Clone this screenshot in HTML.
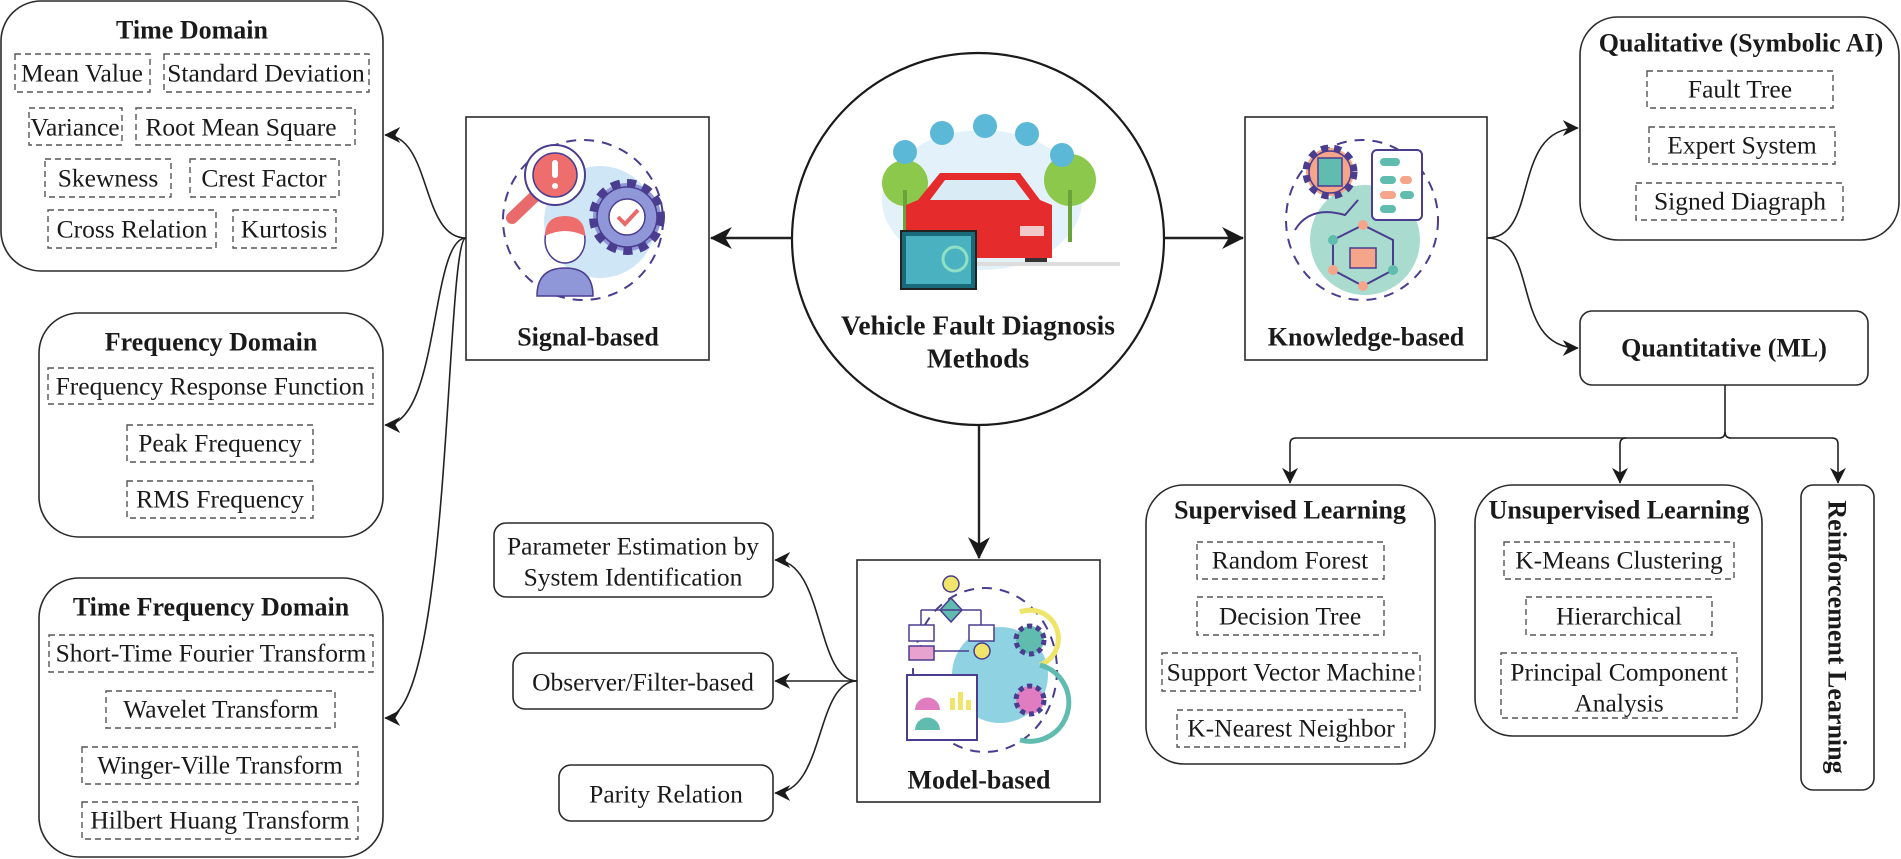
<!DOCTYPE html>
<html><head><meta charset="utf-8"><style>
html,body{margin:0;padding:0;background:#fff;}
svg{display:block;}
text{font-family:"Liberation Serif","DejaVu Serif",serif;fill:#1a1a1a;}
.t{font-size:25.5px;}
.b{font-size:26px;font-weight:bold;}
.bx{fill:#fff;stroke:#2a2a2a;stroke-width:1.6;}
.d{fill:none;stroke:#555;stroke-width:1.4;stroke-dasharray:6 4;}
.ln{fill:none;stroke:#222;stroke-width:1.6;}
.ln2{fill:none;stroke:#222;stroke-width:2.4;}
</style></head><body>
<svg width="1901" height="859" viewBox="0 0 1901 859" xmlns="http://www.w3.org/2000/svg" font-family="Liberation Serif, DejaVu Serif, serif">
<defs>
<marker id="a" viewBox="0 0 10 10" refX="9.5" refY="5" markerWidth="16" markerHeight="16" markerUnits="userSpaceOnUse" orient="auto">
<path d="M0,0 L10,5 L0,10 L3,5 z" fill="#1a1a1a"/></marker>
<marker id="A" viewBox="0 0 10 10" refX="9.5" refY="5" markerWidth="22" markerHeight="22" markerUnits="userSpaceOnUse" orient="auto">
<path d="M0,0 L10,5 L0,10 L3,5 z" fill="#1a1a1a"/></marker>
</defs>
<g text-anchor="middle" dominant-baseline="central">

<rect class="bx" x="1" y="1" width="382" height="270" rx="40"/>
<text class="b" x="192" y="30">Time Domain</text>
<rect class="d" x="15" y="54" width="135" height="38"/><text class="t" x="82" y="73">Mean Value</text>
<rect class="d" x="164" y="54" width="205" height="38"/><text class="t" x="266" y="73">Standard Deviation</text>
<rect class="d" x="29" y="108" width="93" height="37"/><text class="t" x="75" y="127">Variance</text>
<rect class="d" x="136" y="108" width="219" height="37"/><text class="t" x="241" y="127">Root Mean Square</text>
<rect class="d" x="45" y="159" width="126" height="38"/><text class="t" x="108" y="178">Skewness</text>
<rect class="d" x="190" y="159" width="149" height="38"/><text class="t" x="264" y="178">Crest Factor</text>
<rect class="d" x="48" y="210" width="168" height="38"/><text class="t" x="132" y="229">Cross Relation</text>
<rect class="d" x="233" y="210" width="103" height="38"/><text class="t" x="284" y="229">Kurtosis</text>

<rect class="bx" x="39" y="313" width="344" height="224" rx="40"/>
<text class="b" x="211" y="342">Frequency Domain</text>
<rect class="d" x="48" y="368" width="325" height="36"/><text class="t" x="210" y="386">Frequency Response Function</text>
<rect class="d" x="127" y="425" width="186" height="37"/><text class="t" x="220" y="443">Peak Frequency</text>
<rect class="d" x="127" y="481" width="186" height="37"/><text class="t" x="220" y="499">RMS Frequency</text>

<rect class="bx" x="39" y="578" width="344" height="279" rx="40"/>
<text class="b" x="211" y="607">Time Frequency Domain</text>
<rect class="d" x="49" y="635" width="324" height="37"/><text class="t" x="211" y="653">Short-Time Fourier Transform</text>
<rect class="d" x="106" y="691" width="229" height="37"/><text class="t" x="221" y="709">Wavelet Transform</text>
<rect class="d" x="82" y="747" width="276" height="37"/><text class="t" x="220" y="765">Winger-Ville Transform</text>
<rect class="d" x="82" y="802" width="276" height="37"/><text class="t" x="220" y="820">Hilbert Huang Transform</text>

<rect class="bx" x="466" y="117" width="243" height="243"/>
<circle cx="600" cy="222" r="56" fill="#cfe6f6"/>
<circle cx="583" cy="220" r="80" fill="none" stroke="#4a3d8f" stroke-width="2" stroke-dasharray="10 8"/>
<line x1="535" y1="196" x2="512" y2="218" stroke="#e86a6a" stroke-width="12" stroke-linecap="round"/>
<circle cx="555" cy="175" r="30" fill="#fff" stroke="#4a3d8f" stroke-width="2"/>
<circle cx="555" cy="175" r="22" fill="#ee6e6e" stroke="#4a3d8f" stroke-width="1.5"/>
<rect x="552" y="160" width="6" height="18" rx="3" fill="#fff"/><circle cx="555" cy="186" r="3" fill="#fff"/>
<circle cx="627" cy="217" r="34" fill="#8f97d8" stroke="#4a3d8f" stroke-width="8" stroke-dasharray="9 7"/>
<circle cx="627" cy="217" r="30" fill="#8f97d8" stroke="#4a3d8f" stroke-width="1.5"/>
<circle cx="627" cy="217" r="18" fill="#fff" stroke="#4a3d8f" stroke-width="1.5"/>
<path d="M618,217 L625,224 L638,210" fill="none" stroke="#e86a6a" stroke-width="4"/>
<path d="M537,296 Q537,268 565,268 Q593,268 593,296 Z" fill="#8f97d8" stroke="#4a3d8f" stroke-width="1.5"/>
<ellipse cx="565" cy="240" rx="20" ry="23" fill="#fff" stroke="#4a3d8f" stroke-width="1.5"/>
<path d="M545,236 Q545,216 565,216 Q585,216 585,236 Q565,226 545,236Z" fill="#ee6e6e"/>
<text class="b" x="588" y="337">Signal-based</text>

<circle cx="978" cy="239" r="186" fill="#fff" stroke="#1a1a1a" stroke-width="2.2"/>
<ellipse cx="982" cy="200" rx="100" ry="70" fill="#e3f1fa"/>
<circle cx="905" cy="183" r="23" fill="#8cc84b"/><rect x="903" y="190" width="4" height="50" fill="#6aa33a"/>
<circle cx="1070" cy="180" r="26" fill="#8cc84b"/><rect x="1068" y="190" width="4" height="52" fill="#6aa33a"/>
<circle cx="905" cy="152" r="12" fill="#5bb8d6"/><circle cx="942" cy="133" r="12" fill="#5bb8d6"/><circle cx="985" cy="126" r="12" fill="#5bb8d6"/><circle cx="1027" cy="134" r="12" fill="#5bb8d6"/><circle cx="1062" cy="155" r="12" fill="#5bb8d6"/>
<path d="M918,200 L940,173 L1020,173 L1040,200 L1052,205 L1052,258 L906,258 L906,205 Z" fill="#e52b2b"/>
<path d="M930,200 L945,180 L1015,180 L1030,200 Z" fill="#d9ecf5"/>
<rect x="1020" y="226" width="24" height="10" fill="#f2c9c9"/>
<rect x="1025" y="258" width="22" height="8" fill="#333"/>
<rect x="900" y="262" width="220" height="4" fill="#ddd"/>
<rect x="901" y="231" width="75" height="58" fill="#1a6b7a" stroke="#222" stroke-width="2"/>
<rect x="906" y="236" width="65" height="48" fill="#49b1c0"/>
<circle cx="955" cy="259" r="12" fill="none" stroke="#8fe0c4" stroke-width="3"/>
<text class="b" x="978" y="325" style="font-size:27.5px">Vehicle Fault Diagnosis</text>
<text class="b" x="978" y="358" style="font-size:27.5px">Methods</text>

<rect class="bx" x="1245" y="117" width="242" height="243"/>
<circle cx="1365" cy="240" r="55" fill="#a9dccf"/>
<ellipse cx="1362" cy="220" rx="76" ry="80" fill="none" stroke="#4a3d8f" stroke-width="2" stroke-dasharray="10 8"/>
<circle cx="1330" cy="172" r="24" fill="#f4a58a" stroke="#4a3d8f" stroke-width="7" stroke-dasharray="7 6"/>
<circle cx="1330" cy="172" r="21" fill="#f4a58a" stroke="#4a3d8f" stroke-width="1.5"/>
<rect x="1318" y="158" width="24" height="28" fill="#5fbcae" stroke="#4a3d8f" stroke-width="1.5"/>
<rect x="1372" y="150" width="50" height="70" rx="5" fill="#fff" stroke="#4a3d8f" stroke-width="2"/>
<rect x="1380" y="158" width="20" height="8" rx="4" fill="#5fbcae"/><rect x="1380" y="176" width="16" height="8" rx="4" fill="#5fbcae"/><rect x="1400" y="176" width="12" height="8" rx="4" fill="#f4a58a"/>
<rect x="1380" y="191" width="16" height="8" rx="4" fill="#f4a58a"/><rect x="1400" y="191" width="14" height="8" rx="4" fill="#5fbcae"/><rect x="1380" y="205" width="16" height="8" rx="4" fill="#5fbcae"/>
<path d="M1295,230 Q1310,205 1345,215 L1358,200" fill="none" stroke="#4a3d8f" stroke-width="2"/>
<path d="M1333,240 L1363,225 L1393,240 L1393,270 L1363,286 L1333,270 Z" fill="none" stroke="#4a3d8f" stroke-width="2"/>
<rect x="1350" y="248" width="26" height="20" fill="#f4a58a" stroke="#4a3d8f" stroke-width="1.5"/>
<circle cx="1333" cy="240" r="5" fill="#5fbcae"/><circle cx="1393" cy="270" r="5" fill="#5fbcae"/><circle cx="1363" cy="286" r="5" fill="#f4a58a"/><circle cx="1363" cy="225" r="5" fill="#f4a58a"/><circle cx="1333" cy="270" r="5" fill="#f4a58a"/>
<text class="b" x="1366" y="337">Knowledge-based</text>

<rect class="bx" x="1580" y="17" width="319" height="223" rx="38"/>
<text class="b" x="1741" y="43">Qualitative (Symbolic AI)</text>
<rect class="d" x="1647" y="71" width="186" height="37"/><text class="t" x="1740" y="89">Fault Tree</text>
<rect class="d" x="1649" y="127" width="186" height="37"/><text class="t" x="1742" y="145">Expert System</text>
<rect class="d" x="1636" y="183" width="207" height="37"/><text class="t" x="1740" y="201">Signed Diagraph</text>

<rect class="bx" x="1580" y="311" width="288" height="74" rx="12"/>
<text class="b" x="1724" y="348">Quantitative (ML)</text>

<rect class="bx" x="1146" y="485" width="289" height="279" rx="38"/>
<text class="b" x="1290" y="510">Supervised Learning</text>
<rect class="d" x="1197" y="542" width="187" height="37"/><text class="t" x="1290" y="560">Random Forest</text>
<rect class="d" x="1197" y="597" width="187" height="38"/><text class="t" x="1290" y="616">Decision Tree</text>
<rect class="d" x="1162" y="653" width="258" height="38"/><text class="t" x="1291" y="672">Support Vector Machine</text>
<rect class="d" x="1177" y="710" width="228" height="37"/><text class="t" x="1291" y="728">K-Nearest Neighbor</text>

<rect class="bx" x="1475" y="485" width="287" height="251" rx="38"/>
<text class="b" x="1619" y="510">Unsupervised Learning</text>
<rect class="d" x="1504" y="542" width="230" height="37"/><text class="t" x="1619" y="560">K-Means Clustering</text>
<rect class="d" x="1526" y="597" width="186" height="38"/><text class="t" x="1619" y="616">Hierarchical</text>
<rect class="d" x="1501" y="653" width="236" height="65"/><text class="t" x="1619" y="672">Principal Component</text><text class="t" x="1619" y="703">Analysis</text>

<rect class="bx" x="1801" y="485" width="73" height="305" rx="12"/>
<text class="b" x="0" y="0" transform="translate(1837,637) rotate(90)">Reinforcement Learning</text>

<rect class="bx" x="857" y="560" width="243" height="242"/>
<circle cx="1000" cy="675" r="48" fill="#8fd3e3"/>
<ellipse cx="985" cy="670" rx="72" ry="82" fill="none" stroke="#4a3d8f" stroke-width="2" stroke-dasharray="10 8"/>
<circle cx="951" cy="584" r="8" fill="#efe56a" stroke="#4a3d8f" stroke-width="1.5"/>
<path d="M951,598 L962,610 L951,622 L940,610 Z" fill="#5fbcae" stroke="#4a3d8f" stroke-width="1.5"/>
<path d="M921,610 H981 M921,610 V625 M981,610 V625 M921,645 V651 H969" fill="none" stroke="#4a3d8f" stroke-width="1.5"/>
<rect x="909" y="625" width="25" height="16" fill="#fff" stroke="#4a3d8f" stroke-width="1.5"/>
<rect x="969" y="625" width="25" height="16" fill="#fff" stroke="#4a3d8f" stroke-width="1.5"/>
<rect x="909" y="646" width="25" height="14" fill="#e8a2cf" stroke="#4a3d8f" stroke-width="1.5"/>
<circle cx="982" cy="651" r="8" fill="#efe56a" stroke="#4a3d8f" stroke-width="1.5"/>
<rect x="907" y="675" width="70" height="65" fill="#fff" stroke="#4a3d8f" stroke-width="2"/>
<path d="M915,710 A12,12 0 0 1 940,710 Z" fill="#e07cc0"/><path d="M915,730 A12,12 0 0 1 940,730 Z" fill="#5fbcae"/>
<rect x="950" y="698" width="5" height="12" fill="#efe56a"/><rect x="958" y="692" width="5" height="18" fill="#efe56a"/><rect x="966" y="700" width="5" height="10" fill="#efe56a"/>
<path d="M1020,612 A28,28 0 1 1 1040,665" fill="none" stroke="#efe56a" stroke-width="5"/>
<path d="M1040,665 A30,30 0 1 1 1020,740" fill="none" stroke="#5fbcae" stroke-width="5"/>
<circle cx="1030" cy="640" r="14" fill="#5fbcae" stroke="#4a3d8f" stroke-width="5" stroke-dasharray="5 4"/>
<circle cx="1030" cy="700" r="14" fill="#e07cc0" stroke="#4a3d8f" stroke-width="5" stroke-dasharray="5 4"/>
<text class="b" x="979" y="780">Model-based</text>

<rect class="bx" x="494" y="523" width="279" height="74" rx="12"/>
<text class="t" x="633" y="546">Parameter Estimation by</text>
<text class="t" x="633" y="577">System Identification</text>
<rect class="bx" x="513" y="653" width="260" height="56" rx="12"/>
<text class="t" x="643" y="682">Observer/Filter-based</text>
<rect class="bx" x="559" y="765" width="214" height="56" rx="12"/>
<text class="t" x="666" y="794">Parity Relation</text>
</g>

<path class="ln2" d="M792,238 L711,238" marker-end="url(#A)"/>
<path class="ln2" d="M1164,238 L1243,238" marker-end="url(#A)"/>
<path class="ln2" d="M979,426 L979,558" marker-end="url(#A)"/>

<path class="ln" d="M466,238 C420,238 432,135 385,135" marker-end="url(#a)"/>
<path class="ln" d="M466,238 C430,238 440,425 385,425" marker-end="url(#a)"/>
<path class="ln" d="M466,238 C445,238 452,718 385,718" marker-end="url(#a)"/>

<path class="ln" d="M1487,238 C1540,238 1510,128 1578,128" marker-end="url(#a)"/>
<path class="ln" d="M1487,238 C1540,238 1510,348 1578,348" marker-end="url(#a)"/>

<path class="ln" d="M857,681 C815,681 825,560 775,560" marker-end="url(#a)"/>
<path class="ln" d="M857,681 L775,681" marker-end="url(#a)"/>
<path class="ln" d="M857,681 C815,681 825,793 775,793" marker-end="url(#a)"/>

<path class="ln" d="M1725,385 L1725,432 Q1725,438 1719,438 L1296,438 Q1290,438 1290,444 L1290,483" marker-end="url(#a)"/>
<path class="ln" d="M1626,438 Q1620,438 1620,444 L1620,483" marker-end="url(#a)"/>
<path class="ln" d="M1725,432 Q1725,438 1731,438 L1832,438 Q1838,438 1838,444 L1838,483" marker-end="url(#a)"/>
</svg>
</body></html>
